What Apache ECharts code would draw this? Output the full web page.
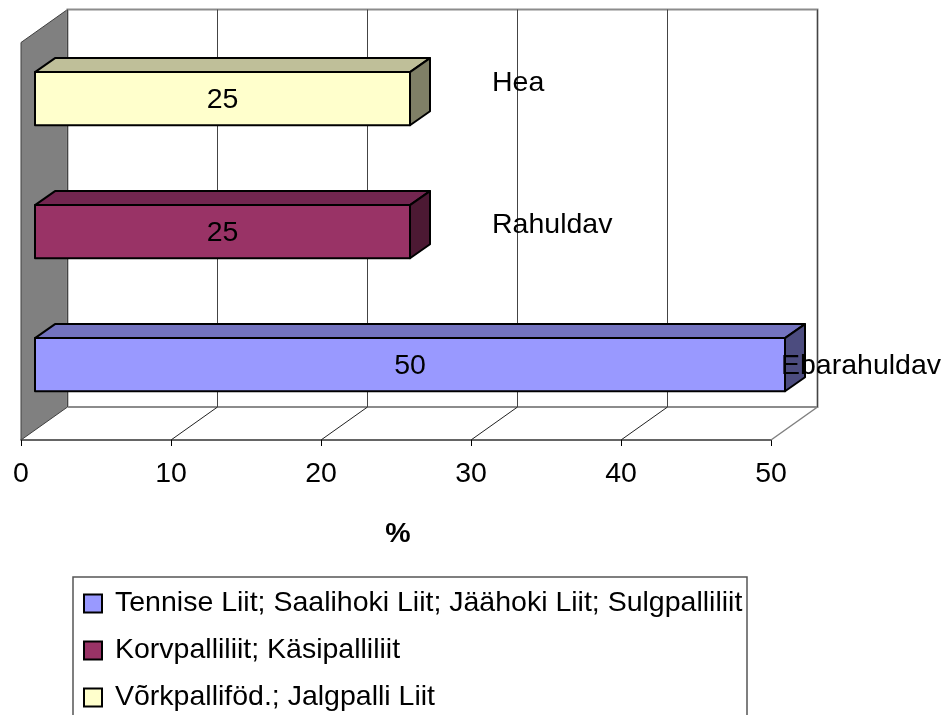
<!DOCTYPE html>
<html>
<head>
<meta charset="utf-8">
<style>html,body{margin:0;padding:0;background:#fff}#c{width:948px;height:715px}</style>
<script src="https://cdn.jsdelivr.net/npm/echarts@6/dist/echarts.min.js"></script>
</head>
<body>
<div id="c"></div>
<script>
const categories = ['Ebarahuldav', 'Rahuldav', 'Hea'];
const seriesNames = [
  'Tennise Liit; Saalihoki Liit; Jäähoki Liit; Sulgpalliliit',
  'Korvpalliliit; Käsipalliliit',
  'Võrkpalliföd.; Jalgpalli Liit'
];
const ebarahuldavValues = [50];
const rahuldavValues = [25];
const heaValues = [25];
const xTicks = [0, 10, 20, 30, 40, 50];

const FONT = '"Liberation Sans", Arial, sans-serif';
const FS = 28.5;
const WALL = [46.5, -33];      // depth of the plot box
const WALL_TOP_INSET = 1.5;    // front edge of the left wall below the grid top
const BAR_SHIFT = [14, -8.8];  // front face of the bars relative to the front plane
const BAR_DEPTH = [20, -14];   // depth of each bar
const NAME_NUDGE = [[10, 1], [96, -7], [96, -16]]; // category-name placement per category

const palette = [
  { face: '#9999FF', top: '#7373BF', side: '#4C4C7F' },
  { face: '#993366', top: '#732650', side: '#4C1933' },
  { face: '#FFFFCC', top: '#BFBF99', side: '#7F7F66' }
];

function barRender(col) {
  return function (params, api) {
    const v = api.value(0), c = api.value(1);
    const p0 = api.coord([0, c]);
    const p1 = api.coord([v, c]);
    const h = api.size([0, 1])[1] * 0.4;
    const x0 = p0[0] + BAR_SHIFT[0], x1 = p1[0] + BAR_SHIFT[0];
    const yT = p0[1] + BAR_SHIFT[1] - h / 2, yB = yT + h;
    const dx = BAR_DEPTH[0], dy = BAR_DEPTH[1];
    const st = { stroke: '#000', lineWidth: 2, lineJoin: 'round' };
    const poly = (pts, fill) => ({
      type: 'polygon', shape: { points: pts }, style: Object.assign({ fill: fill }, st)
    });
    return {
      type: 'group',
      children: [
        poly([[x0, yT], [x0 + dx, yT + dy], [x1 + dx, yT + dy], [x1, yT]], col.top),
        poly([[x1, yT], [x1 + dx, yT + dy], [x1 + dx, yB + dy], [x1, yB]], col.side),
        poly([[x0, yT], [x1, yT], [x1, yB], [x0, yB]], col.face),
        {
          type: 'text',
          style: {
            x: (x0 + x1) / 2, y: (yT + yB) / 2 + 1, text: String(v),
            fill: '#000', font: FS + 'px ' + FONT, align: 'center', verticalAlign: 'middle'
          }
        }
      ]
    };
  };
}

function wallRender(params) {
  const g = params.coordSys;
  const dx = WALL[0], dy = WALL[1];
  const xL = g.x, xR = g.x + g.width, yT = g.y + WALL_TOP_INSET, yB = g.y + g.height;
  return {
    type: 'group',
    children: [
      { type: 'polygon',
        shape: { points: [[xL, yB], [xL + dx, yB + dy], [xL + dx, yT + dy], [xL, yT]] },
        style: { fill: '#808080', stroke: '#404040', lineWidth: 1 } },
      { type: 'polyline',
        shape: { points: [[xL + dx, yB + dy], [xR + dx, yB + dy], [xR + dx, yT + dy], [xL + dx, yT + dy], [xL + dx, yB + dy]] },
        style: { fill: 'none', stroke: '#8C8C8C', lineWidth: 2 } },
      { type: 'line',
        shape: { x1: xR, y1: yB, x2: xR + dx, y2: yB + dy },
        style: { stroke: '#808080', lineWidth: 1.5 } }
    ]
  };
}

function floorRender(params, api) {
  const p = api.coord([api.value(0), 0]);
  const yB = params.coordSys.y + params.coordSys.height;
  return {
    type: 'line',
    shape: { x1: p[0], y1: yB, x2: p[0] + WALL[0], y2: yB + WALL[1] },
    style: { stroke: '#222', lineWidth: 1 }
  };
}

function nameRender(params, api) {
  const c = api.value(1);
  const p = api.coord([api.value(0), c]);
  const n = NAME_NUDGE[c];
  return {
    type: 'text',
    style: {
      x: p[0] + n[0], y: p[1] + BAR_SHIFT[1] + n[1], text: categories[c],
      fill: '#000', font: FS + 'px ' + FONT, align: 'left', verticalAlign: 'middle'
    }
  };
}

const allValues = [ebarahuldavValues, rahuldavValues, heaValues];

const option = {
  animation: false,
  backgroundColor: '#fff',
  graphic: [{
    type: 'rect', z: 0, silent: true,
    shape: { x: 73, y: 577, width: 674, height: 160 },
    style: { fill: '#fff', stroke: '#555', lineWidth: 1.5 }
  }],
  legend: {
    data: seriesNames, orient: 'vertical', left: 83, top: 589,
    padding: 0, itemGap: 18, itemWidth: 18, itemHeight: 18, icon: 'rect',
    selectedMode: false,
    itemStyle: { borderColor: '#000', borderWidth: 2 },
    textStyle: { fontFamily: FONT, fontSize: FS, color: '#000', padding: [3, 0, 0, 8], lineHeight: 25 }
  },
  grid: [
    { left: 21, top: 41, width: 750, height: 399, containLabel: false },
    { left: 67.5, top: 9.5, width: 750, height: 397.5, containLabel: false }
  ],
  xAxis: [
    { type: 'value', gridIndex: 0, min: 0, max: 50, interval: 10,
      name: '%', nameLocation: 'middle', nameGap: 80,
      nameTextStyle: { fontFamily: FONT, fontSize: 28.5, fontWeight: 'bold', color: '#000', padding: [0, 0, 0, 4] },
      axisLine: { show: true, lineStyle: { color: '#333', width: 1.5 } },
      axisTick: { show: true, length: 6, lineStyle: { color: '#000' } },
      axisLabel: { fontFamily: FONT, fontSize: FS, color: '#000', margin: 20 },
      splitLine: { show: false } },
    { type: 'value', gridIndex: 1, min: 0, max: 50, interval: 10,
      axisLine: { show: false }, axisTick: { show: false }, axisLabel: { show: false },
      splitLine: { show: true, lineStyle: { color: '#444', width: 1 } }, z: 3 }
  ],
  yAxis: [
    { type: 'category', gridIndex: 0, data: categories, show: false },
    { type: 'category', gridIndex: 1, data: categories, show: false }
  ],
  series: [
    { type: 'custom', name: 'wall', silent: true, z: 1, xAxisIndex: 0, yAxisIndex: 0,
      renderItem: wallRender, data: [[0, 0]], encode: { x: 0, y: 1 }, clip: false },
    { type: 'custom', name: 'floor', silent: true, z: 2, xAxisIndex: 0, yAxisIndex: 0,
      renderItem: floorRender, data: xTicks.slice(1, 5).map(t => [t, 0]), encode: { x: 0, y: 1 }, clip: false }
  ].concat(seriesNames.map((n, i) => ({
    type: 'custom', name: n, z: 5, xAxisIndex: 0, yAxisIndex: 0,
    itemStyle: { color: palette[i].face },
    renderItem: barRender(palette[i]),
    data: allValues[i].map(v => [v, i]),
    encode: { x: 0, y: 1 }, clip: false
  }))).concat([
    { type: 'custom', name: 'names', silent: true, z: 6, xAxisIndex: 0, yAxisIndex: 0,
      renderItem: nameRender,
      data: allValues.map((a, i) => [a[0], i]),
      encode: { x: 0, y: 1 }, clip: false }
  ])
};

echarts.init(document.getElementById('c'), null, { renderer: 'canvas' }).setOption(option);
</script>
</body>
</html>
